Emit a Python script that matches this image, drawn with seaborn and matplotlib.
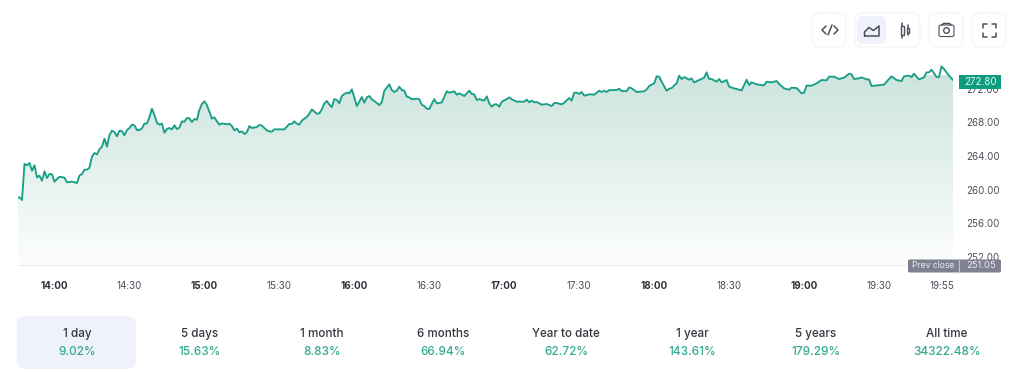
"""
Intraday price chart with gradient area and period tabs below it.
"""

import matplotlib

matplotlib.use("Agg")

import matplotlib.pyplot as plt
import numpy as np
import seaborn as sns
from matplotlib.colors import LinearSegmentedColormap
from matplotlib.patches import Circle, FancyBboxPatch, Rectangle

# minutes after 14:00
minutes = [
    -15, -14, -13, -12, -11, -10, -9, -8, -7, -6, -5, -4, -3, -2, -1, 0, 1, 2, 4, 5, 7, 8, 9, 10, 11, 12, 13, 14,
    15, 16, 17, 18, 19, 20, 21, 22, 23, 24, 25, 26, 27, 28, 29, 30, 31, 32, 33, 34, 35, 36, 37, 38, 39, 40, 41, 42,
    43, 44, 45, 46, 47, 48, 49, 50, 51, 52, 53, 54, 55, 56, 57, 58, 59, 60, 61, 62, 63, 64, 65, 66, 67, 69, 70, 71,
    72, 73, 74, 75, 76, 77, 78, 79, 81, 82, 83, 85, 86, 87, 88, 90, 92, 93, 94, 95, 96, 97, 98, 99, 100, 101, 102,
    103, 104, 105, 106, 107, 108, 109, 110, 111, 112, 113, 114, 115, 116, 117, 118, 119, 120, 121, 122, 123, 124,
    125, 126, 127, 128, 130, 131, 132, 134, 135, 136, 137, 138, 139, 140, 141, 142, 143, 145, 146, 147, 148, 149,
    150, 151, 152, 153, 155, 157, 158, 160, 161, 162, 164, 166, 167, 168, 169, 170, 172, 173, 174, 175, 176, 177,
    178, 179, 181, 182, 183, 185, 188, 189, 190, 191, 192, 193, 195, 197, 199, 200, 201, 203, 204, 206, 207, 208,
    209, 210, 211, 212, 214, 216, 218, 219, 220, 221, 222, 225, 226, 227, 229, 230, 231, 233, 236, 237, 238, 240,
    241, 242, 243, 245, 246, 247, 249, 250, 251, 252, 254, 255, 256, 258, 260, 261, 262, 263, 265, 266, 267, 269,
    270, 272, 275, 277, 278, 279, 281, 284, 285, 287, 289, 290, 292, 294, 295, 297, 299, 300, 301, 303, 305, 307,
    309, 310, 312, 314, 316, 318, 319, 320, 322, 323, 325, 326, 327, 332, 333, 335, 337, 339, 340, 342, 343, 344,
    346, 348, 349, 350, 351, 353, 354, 355, 356, 358, 360,
]
prices = [
    259.01, 259.09, 258.77, 263.05, 262.89, 263.16, 262.25, 262.89, 261.46, 261.66, 261.07, 262.17, 261.38, 261.86,
    261.82, 260.95, 261.26, 261.54, 261.42, 260.87, 260.95, 260.87, 260.79, 261.66, 261.86, 262.37, 262.37, 262.61,
    263.92, 264.35, 264.19, 264.79, 265.10, 266.05, 265.10, 266.49, 267.00, 266.85, 266.33, 267.00, 266.96, 266.45,
    267.08, 267.32, 267.72, 267.64, 267.08, 267.08, 267.28, 267.84, 267.87, 268.59, 269.62, 268.86, 267.95, 267.72,
    267.84, 266.77, 267.20, 267.32, 267.16, 267.64, 267.20, 267.36, 268.11, 268.07, 268.51, 268.47, 268.03, 268.39,
    268.31, 269.46, 270.17, 270.49, 270.05, 269.26, 268.43, 268.59, 268.11, 267.72, 267.87, 267.76, 267.84, 267.56,
    267.04, 267.24, 266.81, 266.92, 266.61, 266.81, 267.56, 267.32, 267.44, 267.68, 267.60, 267.04, 266.92, 266.89,
    267.16, 267.16, 267.16, 267.48, 267.80, 267.80, 268.11, 267.84, 267.72, 268.19, 268.43, 268.63, 269.02, 269.54,
    269.26, 269.02, 269.06, 269.54, 270.25, 270.53, 270.09, 269.81, 270.76, 270.65, 270.25, 271.12, 271.36, 271.52,
    271.44, 271.91, 270.96, 269.93, 270.45, 271.00, 270.33, 270.96, 271.12, 270.73, 270.53, 270.05, 270.37, 271.75,
    272.51, 271.83, 271.60, 271.75, 272.23, 271.83, 271.75, 271.04, 270.96, 270.73, 270.80, 270.73, 270.09, 269.93,
    269.62, 269.58, 270.17, 270.76, 270.25, 270.37, 271.68, 271.52, 271.68, 271.28, 271.44, 271.12, 271.75, 271.36,
    271.32, 270.65, 270.76, 270.57, 271.08, 270.25, 269.85, 270.13, 270.13, 269.85, 270.45, 270.76, 270.96, 270.73,
    270.45, 270.45, 270.69, 270.37, 270.57, 270.37, 270.41, 270.09, 270.17, 269.93, 270.29, 270.29, 270.13, 270.33,
    270.88, 270.57, 271.52, 271.52, 271.36, 271.60, 271.16, 271.32, 271.28, 271.75, 271.60, 271.75, 271.60, 271.83,
    271.83, 271.99, 271.71, 271.71, 272.15, 272.03, 271.60, 271.68, 271.91, 272.31, 272.63, 273.46, 273.42, 272.82,
    271.75, 271.99, 272.07, 272.63, 273.54, 273.14, 273.38, 273.06, 273.22, 272.74, 273.02, 273.30, 273.93, 273.14,
    273.14, 272.82, 273.14, 272.74, 273.02, 272.23, 272.03, 271.79, 273.06, 272.43, 272.74, 272.51, 272.39, 272.82,
    272.74, 272.90, 272.55, 272.03, 271.87, 272.11, 272.07, 271.44, 271.52, 272.35, 272.35, 272.63, 273.02, 272.98,
    273.42, 273.42, 273.14, 273.30, 273.77, 273.69, 273.14, 273.22, 273.34, 273.10, 273.10, 272.31, 272.47, 272.82,
    273.46, 273.02, 272.90, 273.46, 273.54, 273.38, 273.77, 273.10, 273.34, 273.93, 273.93, 274.25, 273.38, 273.38,
    274.64, 274.33, 273.54, 272.90,
]

x_ticks = [0, 30, 60, 90, 120, 150, 180, 210, 240, 270, 300, 330, 355]
x_labels = ["14:00", "14:30", "15:00", "15:30", "16:00", "16:30", "17:00", "17:30", "18:00", "18:30", "19:00", "19:30", "19:55"]
bold_labels = ["14:00", "15:00", "16:00", "17:00", "18:00", "19:00"]
y_ticks = [252, 256, 260, 264, 268, 272]
prev_close = 251.05
last_price = 272.80

periods = ["1 day", "5 days", "1 month", "6 months", "Year to date", "1 year", "5 years", "All time"]
returns = ["9.02%", "15.63%", "8.83%", "66.94%", "62.72%", "143.61%", "179.29%", "34322.48%"]
period_x = [77, 200, 322, 443, 566, 692, 816, 947]

GREEN = "#1a9e87"
TEXT = "#4b505a"

sns.set_theme(style="white")
plt.rcParams["font.family"] = ["Inter", "DejaVu Sans"]

fig = plt.figure(figsize=(10.24, 3.72), dpi=100)
W, H = 1024, 372
ax = fig.add_axes([18 / W, 1 - 266 / H, 935 / W, 206 / H])
ax.patch.set_alpha(0)

y_low, y_high = 250.93, 275.4
x_low, x_high = -14.6, 359.6

sns.lineplot(x=minutes, y=prices, ax=ax, color=GREEN, linewidth=1.35, estimator=None, errorbar=None, zorder=3)

# gradient under the line, clipped to the area polygon
area = ax.fill_between(minutes, prices, y_low, color="none", linewidth=0)
cmap = LinearSegmentedColormap.from_list("fade", [(0.216, 0.59, 0.467, 0.25), (0.216, 0.59, 0.467, 0.015)])
img = ax.imshow(
    np.linspace(0, 1, 256).reshape(-1, 1),
    extent=[x_low, x_high, y_low, 273.5],
    origin="upper",
    aspect="auto",
    cmap=cmap,
    zorder=1,
)
img.set_clip_path(area.get_paths()[0], transform=ax.transData)

ax.axhline(prev_close, color="#d2d4d8", linewidth=0.7, linestyle=(0, (1, 1.5)), zorder=2)

ax.set_xlim(x_low, x_high)
ax.set_ylim(y_low, y_high)
ax.set_xticks(x_ticks, x_labels)
ax.set_yticks(y_ticks, [f"{v:.2f}" for v in y_ticks])
ax.yaxis.tick_right()
ax.tick_params(axis="x", length=0, pad=10.5, labelsize=7.1, labelcolor=TEXT)
ax.tick_params(axis="y", length=0, pad=9.5, labelsize=7.0, labelcolor=TEXT)
for label in ax.get_xticklabels():
    if label.get_text() in bold_labels:
        label.set_fontweight("bold")
        label.set_color("#2f333a")
sns.despine(ax=ax, left=True, bottom=True, right=True, top=True)

# page furniture is laid out in pixels on a full-figure layer
ui = fig.add_axes([0, 0, 1, 1], zorder=5)
ui.set_xlim(0, W)
ui.set_ylim(H, 0)
ui.axis("off")
ui.patch.set_alpha(0)


def rounded(x0, y0, x1, y1, radius, face, edge="none"):
    ui.add_patch(FancyBboxPatch(
        (x0 + radius, y0 + radius), x1 - x0 - 2 * radius, y1 - y0 - 2 * radius,
        boxstyle=f"round,pad={radius},rounding_size={radius}",
        facecolor=face, edgecolor=edge, linewidth=0.8,
    ))


def stroke(xs, ys, lw=1.1):
    ui.plot(xs, ys, color=TEXT, linewidth=lw, solid_capstyle="round", solid_joinstyle="round")


# toolbar
rounded(812, 13, 846, 47, 8, "white", "#f2f3f5")
rounded(854.5, 13, 920, 47, 8, "white", "#f2f3f5")
rounded(857, 16, 886, 44, 6, "#eff2fa")
rounded(929, 13, 963, 47, 8, "white", "#f2f3f5")
rounded(972, 13, 1006, 47, 8, "white", "#f2f3f5")

# code icon
stroke([826, 822, 826], [26, 30, 34])
stroke([834, 838, 834], [26, 30, 34])
stroke([832, 828], [25, 35])
# area icon
stroke([864.5, 864.5, 869, 873.5, 879, 879, 864.5], [36, 32, 27.5, 30.5, 26, 36, 36])
# candle icon
ui.add_patch(Rectangle((900.5, 25.5), 3, 9, facecolor="none", edgecolor=TEXT, linewidth=1.0))
ui.add_patch(Rectangle((906.5, 27.5), 2.6, 5, facecolor="none", edgecolor=TEXT, linewidth=1.0))
stroke([902, 902], [22.5, 25.5])
stroke([902, 902], [34.5, 37.5])
stroke([907.8, 907.8], [25, 27.5])
stroke([907.8, 907.8], [32.5, 35])
# camera icon
rounded(939, 25, 954, 36.5, 2, "none", TEXT)
stroke([942, 943.5, 949.5, 951], [25, 23.5, 23.5, 25])
ui.add_patch(Circle((946.5, 30.5), 2.8, facecolor="none", edgecolor=TEXT, linewidth=1.0))
# fullscreen icon
for cx, cy, dx, dy in [(983, 24, 1, 1), (996, 24, -1, 1), (983, 37, 1, -1), (996, 37, -1, -1)]:
    stroke([cx + 4 * dx, cx, cx], [cy, cy, cy + 4 * dy])

# last price and previous close tags
ui.add_patch(Rectangle((959, 75), 42, 13.5, facecolor="#0e9c80", edgecolor="none"))
ui.text(980.5, 81.8, f"{last_price:.2f}", color="#e8f6f2", fontsize=7.0, ha="center", va="center")
rounded(908, 259.5, 1001, 272.5, 1.5, "#7f8190")
ui.plot([959, 959], [259.5, 272.5], color="#d5d6db", linewidth=0.6)
ui.text(933, 266, "Prev close", color="#eceded", fontsize=6.2, ha="center", va="center")
ui.text(981, 266, f"{prev_close:.2f}", color="#eceded", fontsize=6.8, ha="center", va="center")

# period tabs
rounded(17, 316, 136, 369, 8, "#eff2fa")
for px, name, value in zip(period_x, periods, returns):
    ui.text(px, 334, name, color="#33373e", fontsize=8.4, fontweight="medium", ha="center", va="center")
    ui.text(px, 352, value, color="#35aa91", fontsize=8.5, fontweight="medium", ha="center", va="center")

fig.savefig("out.png", dpi=100, facecolor="white")
